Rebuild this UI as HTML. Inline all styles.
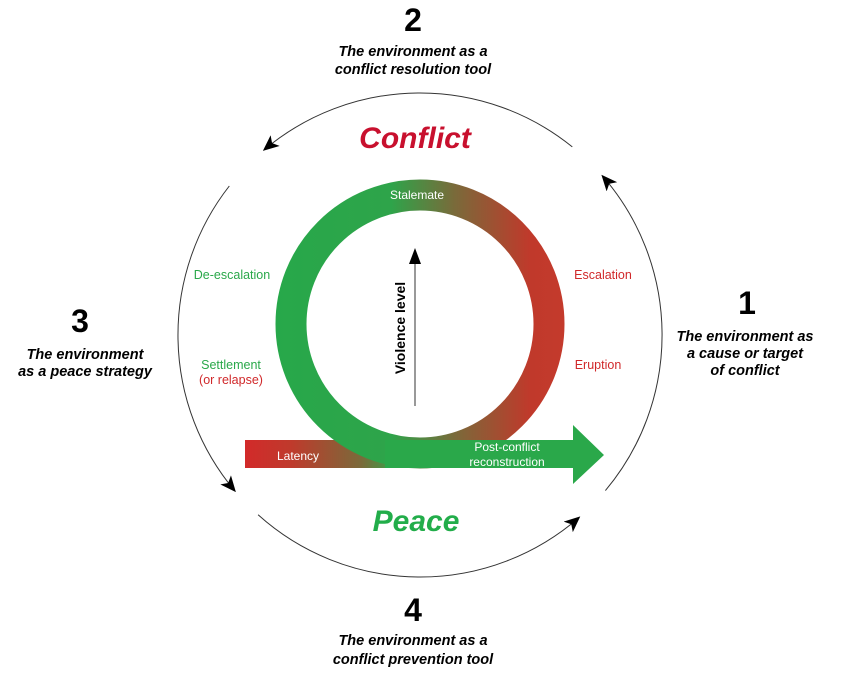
<!DOCTYPE html>
<html><head><meta charset="utf-8"><style>
html,body{margin:0;padding:0;background:#fff}
svg{display:block}
text{font-family:"Liberation Sans",Arial,sans-serif}
</style></head><body>
<svg width="850" height="673" viewBox="0 0 850 673" xmlns="http://www.w3.org/2000/svg">
<defs>
<marker id="ah" markerWidth="16" markerHeight="14" refX="14" refY="7" orient="auto" markerUnits="userSpaceOnUse">
<path d="M0,0 L16,7 L0,14 L4,7 Z" fill="#000"/>
</marker>
<linearGradient id="ring" x1="275" y1="0" x2="565" y2="0" gradientUnits="userSpaceOnUse">
<stop offset="0" stop-color="#27a84a"/>
<stop offset="0.4" stop-color="#2ea44a"/>
<stop offset="0.62" stop-color="#7a6a3a"/>
<stop offset="0.88" stop-color="#c0392b"/>
<stop offset="1" stop-color="#c43a2c"/>
</linearGradient>
<linearGradient id="bar" x1="245" y1="0" x2="400" y2="0" gradientUnits="userSpaceOnUse">
<stop offset="0" stop-color="#d22a2a"/>
<stop offset="0.3" stop-color="#bf3a2c"/>
<stop offset="0.75" stop-color="#7a6a3a"/>
<stop offset="1" stop-color="#2ea84a"/>
</linearGradient>
</defs>

<g fill="none" stroke="#333" stroke-width="1">
<path d="M572.3,146.9 A242,242 0 0 0 264.4,149.6" marker-end="url(#ah)"/>
<path d="M229.3,186.0 A242,242 0 0 0 234.6,490.6" marker-end="url(#ah)"/>
<path d="M258.1,514.8 A242,242 0 0 0 578.8,517.7" marker-end="url(#ah)"/>
<path d="M605.4,490.6 A242,242 0 0 0 602.7,176.2" marker-end="url(#ah)"/>
</g>

<rect x="245" y="440" width="180" height="28" fill="url(#bar)"/>
<circle cx="420" cy="324" r="129" fill="none" stroke="url(#ring)" stroke-width="31"/>
<path d="M385,440 L573,440 L573,425 L604,455 L573,484 L573,468 L385,468 Z" fill="#2aa84a"/>

<line x1="415" y1="406" x2="415" y2="262" stroke="#333" stroke-width="1"/>
<path d="M409,264 L415,248 L421,264 Z" fill="#000"/>
<text transform="translate(405,328) rotate(-90)" text-anchor="middle" font-size="14" font-weight="bold" fill="#000">Violence level</text>

<text x="417" y="199" text-anchor="middle" font-size="12" fill="#fff">Stalemate</text>
<text x="232" y="279" text-anchor="middle" font-size="12.5" fill="#2aa84a">De-escalation</text>
<text x="231" y="369" text-anchor="middle" font-size="12.5" fill="#2aa84a">Settlement</text>
<text x="231" y="384" text-anchor="middle" font-size="12.5" fill="#d0282a">(or relapse)</text>
<text x="603" y="279" text-anchor="middle" font-size="12.5" fill="#d0282a">Escalation</text>
<text x="598" y="369" text-anchor="middle" font-size="12.5" fill="#d0282a">Eruption</text>
<text x="298" y="460" text-anchor="middle" font-size="12" fill="#fff">Latency</text>
<text x="507" y="451" text-anchor="middle" font-size="12" fill="#fff">Post-conflict</text>
<text x="507" y="466" text-anchor="middle" font-size="12" fill="#fff">reconstruction</text>

<text x="415" y="148" text-anchor="middle" font-size="30" font-weight="bold" font-style="italic" fill="#c8102e">Conflict</text>
<text x="416" y="531" text-anchor="middle" font-size="30" font-weight="bold" font-style="italic" fill="#22ad4a">Peace</text>

<g font-weight="bold" fill="#000" text-anchor="middle">
<text x="413" y="31" font-size="32">2</text>
<text x="413" y="56" font-size="14.5" font-style="italic">The environment as a</text>
<text x="413" y="74" font-size="14.5" font-style="italic">conflict resolution tool</text>

<text x="747" y="314" font-size="32">1</text>
<text x="745" y="341" font-size="14.5" font-style="italic">The environment as</text>
<text x="745" y="358" font-size="14.5" font-style="italic">a cause or target</text>
<text x="745" y="375" font-size="14.5" font-style="italic">of conflict</text>

<text x="80" y="332" font-size="32">3</text>
<text x="85" y="359" font-size="14.5" font-style="italic">The environment</text>
<text x="85" y="376" font-size="14.5" font-style="italic">as a peace strategy</text>

<text x="413" y="621" font-size="32">4</text>
<text x="413" y="645" font-size="14.5" font-style="italic">The environment as a</text>
<text x="413" y="664" font-size="14.5" font-style="italic">conflict prevention tool</text>
</g>
</svg>
</body></html>
